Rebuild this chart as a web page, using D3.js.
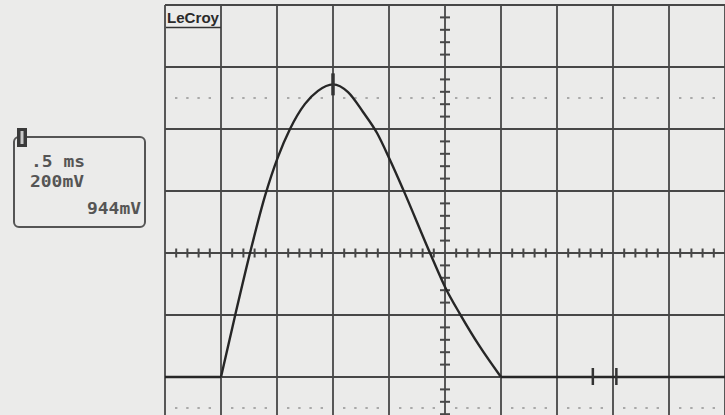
<!DOCTYPE html>
<html>
<head>
<meta charset="utf-8">
<script src="https://cdn.jsdelivr.net/npm/d3@7/dist/d3.min.js"></script>
<style>
  html, body { margin: 0; padding: 0; background: #ebebea; }
  svg { display: block; }
</style>
</head>
<body>
<svg id="scope" width="725" height="415"></svg>
<script>
// Trace samples: time in ms from the left edge of the screen, voltage in mV above baseline
const traceTime = [0, 0.5, 0.625, 0.759, 0.893, 1.009, 1.116, 1.25, 1.366, 1.5, 1.634, 1.768, 1.893, 2.009, 2.125, 2.366, 2.509, 2.634, 2.813, 3.0, 5.0];
const traceMv   = [0, 0, 197, 400, 584, 710, 800, 881, 923, 944, 919, 855, 787, 700, 606, 400, 284, 203, 97, 0, 0];

// Screen: 10 horizontal divisions of 0.5 ms, 8 vertical divisions of 200 mV
const timeDomain = [0, 5];
const voltDomain = [-400, 1200];
const timePerDiv = 0.5;
const voltPerDiv = 200;
const minorPerDiv = 5;
const dottedLevels = [900, -100];          // dotted reference levels (mV)
const peakCursor = [1.5, 944];            // cursor at the peak
const refCursorTimes = [3.82, 4.03];      // reference cursor marks on the baseline

// Readout box text
const readoutLines = [".5 ms", "200mV", "944mV"];
const brandLabel = "LeCroy";

const svg = d3.select("#scope");
const x = d3.scaleLinear().domain(timeDomain).range([165, 725]);
const y = d3.scaleLinear().domain(voltDomain).range([501, 5]);

const gridColor = "#474747";
const g = svg.append("g");

// Dotted reference lines at each minor position
const minorT = d3.range(0, 5 + 1e-9, timePerDiv / minorPerDiv)
  .filter(t => Math.abs(t / timePerDiv - Math.round(t / timePerDiv)) > 1e-6);
dottedLevels.forEach(v => {
  g.selectAll(null).data(minorT).join("rect")
    .attr("x", d => x(d) - 1.2).attr("y", y(v) - 0.9)
    .attr("width", 2.4).attr("height", 1.8)
    .attr("fill", "#a2a2a2");
});

// Major grid
const majorT = d3.range(0, 5 + 1e-9, timePerDiv);
const majorV = d3.range(voltDomain[0], voltDomain[1] + 1e-9, voltPerDiv);
g.selectAll(null).data(majorT).join("line")
  .attr("x1", d => x(d)).attr("x2", d => x(d))
  .attr("y1", y(voltDomain[1])).attr("y2", y(voltDomain[0]))
  .attr("stroke", gridColor).attr("stroke-width", 1.8);
g.selectAll(null).data(majorV).join("line")
  .attr("x1", x(timeDomain[0])).attr("x2", x(timeDomain[1]))
  .attr("y1", d => y(d)).attr("y2", d => y(d))
  .attr("stroke", gridColor).attr("stroke-width", 1.8);

// Minor ticks along the centre axes
const tCenter = (timeDomain[0] + timeDomain[1]) / 2;
const vCenter = (voltDomain[0] + voltDomain[1]) / 2;
g.selectAll(null).data(minorT).join("line")
  .attr("x1", d => x(d)).attr("x2", d => x(d))
  .attr("y1", y(vCenter) - 4.5).attr("y2", y(vCenter) + 4.5)
  .attr("stroke", gridColor).attr("stroke-width", 2);
const minorV = d3.range(voltDomain[0], voltDomain[1] + 1e-9, voltPerDiv / minorPerDiv)
  .filter(v => Math.abs(v / voltPerDiv - Math.round(v / voltPerDiv)) > 1e-6);
g.selectAll(null).data(minorV).join("line")
  .attr("x1", x(tCenter) - 5).attr("x2", x(tCenter) + 5)
  .attr("y1", d => y(d)).attr("y2", d => y(d))
  .attr("stroke", gridColor).attr("stroke-width", 2);

// Trace: flat baseline segments drawn straight, the pulse smoothed
const pts = traceTime.map((t, i) => [t, traceMv[i]]);
const startIdx = 1, endIdx = pts.length - 2;
const straight = d3.line().x(d => x(d[0])).y(d => y(d[1]));
const smooth = d3.line().x(d => x(d[0])).y(d => y(d[1])).curve(d3.curveMonotoneX);
const traceColor = "#262626";
svg.append("path").attr("d", straight(pts.slice(0, startIdx + 1)))
  .attr("fill", "none").attr("stroke", traceColor).attr("stroke-width", 2.6);
svg.append("path").attr("d", smooth(pts.slice(startIdx, endIdx + 1)))
  .attr("fill", "none").attr("stroke", traceColor).attr("stroke-width", 2.4)
  .attr("stroke-linejoin", "round");
svg.append("path").attr("d", straight(pts.slice(endIdx)))
  .attr("fill", "none").attr("stroke", traceColor).attr("stroke-width", 2.6);

// Cursor marks
svg.append("line")
  .attr("x1", x(peakCursor[0])).attr("x2", x(peakCursor[0]))
  .attr("y1", y(peakCursor[1]) - 11).attr("y2", y(peakCursor[1]) + 11)
  .attr("stroke", "#333").attr("stroke-width", 3.5);
svg.selectAll(null).data(refCursorTimes).join("line")
  .attr("x1", d => x(d)).attr("x2", d => x(d))
  .attr("y1", y(0) - 9).attr("y2", y(0) + 8)
  .attr("stroke", "#333").attr("stroke-width", 2.5);

// Brand label, top-left of the screen
svg.append("text")
  .attr("x", 167).attr("y", 23)
  .attr("font-family", "Liberation Sans, Arial, sans-serif")
  .attr("font-weight", "bold").attr("font-size", 14)
  .attr("textLength", 52).attr("lengthAdjust", "spacingAndGlyphs")
  .attr("fill", "#2a2a2a")
  .text(brandLabel);
svg.append("line")
  .attr("x1", 166).attr("x2", 221).attr("y1", 27.5).attr("y2", 27.5)
  .attr("stroke", "#333").attr("stroke-width", 1.6);

// Readout box on the left
const box = svg.append("g");
box.append("rect")
  .attr("x", 14).attr("y", 137).attr("width", 131).attr("height", 90)
  .attr("rx", 5).attr("fill", "none")
  .attr("stroke", "#555").attr("stroke-width", 2);
box.append("rect")
  .attr("x", 17).attr("y", 128).attr("width", 10).attr("height", 19)
  .attr("fill", "#3a3a3a");
box.append("rect")
  .attr("x", 20.5).attr("y", 131).attr("width", 3).attr("height", 13)
  .attr("fill", "#c8c8c8");
const mono = "DejaVu Sans Mono, monospace";
const readoutPos = [[31, 167], [30, 187], [87, 214]];
box.selectAll(null).data(readoutLines).join("text")
  .attr("x", (d, i) => readoutPos[i][0]).attr("y", (d, i) => readoutPos[i][1])
  .attr("font-family", mono).attr("font-size", 15).attr("font-weight", "bold")
  .attr("fill", "#555")
  .attr("textLength", 54).attr("lengthAdjust", "spacingAndGlyphs")
  .text(d => d);
</script>
</body>
</html>
